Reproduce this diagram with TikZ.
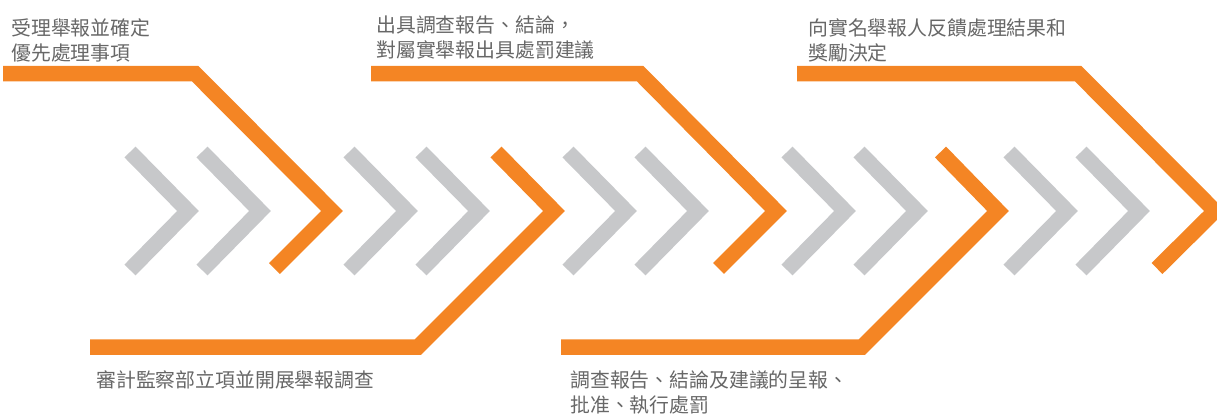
\documentclass[tikz,border=0pt]{standalone}
\usepackage{fontspec}
\newfontfamily\cjkfont{Noto Sans CJK TC}
\definecolor{flowOrange}{HTML}{F48524}
\definecolor{flowGray}{HTML}{C7C8CA}
\definecolor{labelGray}{HTML}{676767}
\tikzset{
  chevron/.pic={
    \draw[flowGray,line width=0.31cm] (-58,-59)--(0,0)--(-58,59);
  },
  orangeline/.style={draw=flowOrange,line width=0.31cm},
  steptext/.style={anchor=north west,inner sep=0pt,align=left,text=labelGray,
    font=\cjkfont\fontsize{11.3}{14.2}\selectfont}
}

\begin{document}
\begin{tikzpicture}[line cap=butt,line join=miter,x=0.02cm,y=-0.02cm]
    \useasboundingbox (0,0) rectangle (1217,413);
    \clip (0,0) rectangle (1217,413);

    % Gray chevrons, two per step
    \foreach \tip in {188,260,407,479,626,698,845,917,1067,1139} {
            \pic at (\tip,211) {chevron};
        }

    % Orange step lines
    \draw[orangeline] (3,73.5) -- (195,73.5) -- (332,211) -- (274.5,268.5);
    \draw[orangeline] (496,152) -- (554,211) -- (418,347) -- (90,347);
    \draw[orangeline] (371,73.5) -- (640,73.5) -- (776,211) -- (718.5,268.5);
    \draw[orangeline] (940.5,152) -- (998,211) -- (862,347) -- (561,347);
    \draw[orangeline] (797,73.5) -- (1078,73.5) -- (1215,211) -- (1157,268.5);

    % Step texts
    \node[steptext] (accept) at (11,18) {受理舉報並確定\\優先處理事項};
    \node[steptext] (report) at (376,15) {出具調查報告、結論，\\對屬實舉報出具處罰建議};
    \node[steptext] (reply) at (808,18) {向實名舉報人反饋處理結果和\\獎勵決定};
    \node[steptext] (probe) at (96,370) {審計監察部立項並開展舉報調查};
    \node[steptext] (approve) at (570,370) {調查報告、結論及建議的呈報、\\批准、執行處罰};
\end{tikzpicture}
\end{document}
